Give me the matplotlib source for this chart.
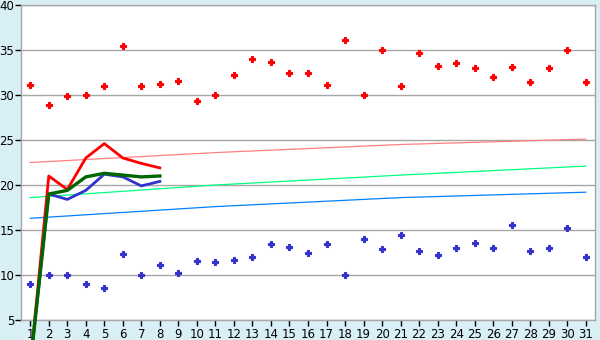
import matplotlib
matplotlib.use("Agg")
import matplotlib.pyplot as plt

# ---------------- data ----------------
days = list(range(1, 32))

max_pts = [31.1, 28.9, 29.9, 30.0, 31.0, 35.4, 31.0, 31.2, 31.6, 29.3,
           30.0, 32.2, 34.0, 33.7, 32.5, 32.4, 31.1, 36.1, 30.0, 35.0,
           31.0, 34.7, 33.2, 33.6, 33.0, 32.0, 33.1, 31.5, 33.0, 35.0, 31.4]
min_pts = [9.0, 10.0, 10.0, 9.0, 8.6, 12.3, 10.0, 11.1, 10.2, 11.6,
           11.4, 11.7, 12.0, 13.4, 13.1, 12.4, 13.4, 10.0, 14.0, 12.9,
           14.5, 12.7, 12.2, 13.0, 13.6, 13.0, 15.6, 12.7, 13.0, 15.2, 12.0]

# thick lines, first 8 days
line_days = [1, 2, 3, 4, 5, 6, 7, 8]
line_red = [0, 21.0, 19.5, 23.0, 24.6, 23.0, 22.4, 21.9]
line_green = [0, 19.0, 19.4, 20.9, 21.3, 21.1, 20.9, 21.0]
line_blue = [0, 19.0, 18.4, 19.4, 21.2, 20.9, 19.9, 20.4]

# thin trend lines
trend_days = [1, 11, 21, 31]
trend_red = [22.5, 23.6, 24.5, 25.1]
trend_green = [18.6, 20.0, 21.1, 22.1]
trend_blue = [16.3, 17.6, 18.6, 19.2]

# ---------------- plot ----------------
fig = plt.figure(figsize=(6, 3.4), dpi=100)
fig.patch.set_facecolor("#D9EFF6")
ax = fig.add_axes([21 / 600, 1 - 320 / 340, 574 / 600, 315 / 340])
ax.set_facecolor("white")

ax.plot(trend_days, trend_red, color="#FF8080", lw=0.9, zorder=2)
ax.plot(trend_days, trend_green, color="#00FF80", lw=0.9, zorder=2)
ax.plot(trend_days, trend_blue, color="#0080FF", lw=0.9, zorder=2)

ax.plot(days, max_pts, ls="none", marker="P", ms=5, color="#FF0000",
        mec="#FF0000", mew=0.8, zorder=3)
ax.plot(days, min_pts, ls="none", marker="P", ms=5, color="#3333CC",
        mec="#3333CC", mew=0.8, zorder=3)

ax.plot(line_days, line_red, color="#FF0000", lw=2.0, zorder=4, clip_on=False)
ax.plot(line_days, line_blue, color="#3333CC", lw=2.0, zorder=4, clip_on=False)
ax.plot(line_days, line_green, color="#006600", lw=2.4, zorder=5, clip_on=False)

ax.set_xlim(0.5, 31.5)
ax.set_ylim(5, 40)
ax.set_xticks(days)
ax.set_yticks(range(5, 41, 5))
ax.tick_params(axis="both", direction="out", length=4, width=1, color="black",
               labelsize=8.5, pad=1)
ax.tick_params(axis="x", pad=2)
ax.grid(axis="y", color="#A6A6A6", lw=1)
ax.set_axisbelow(True)
for s in ax.spines.values():
    s.set_color("#A6A6A6")
    s.set_linewidth(1)

fig.savefig("out.png", dpi=100, facecolor=fig.get_facecolor())
